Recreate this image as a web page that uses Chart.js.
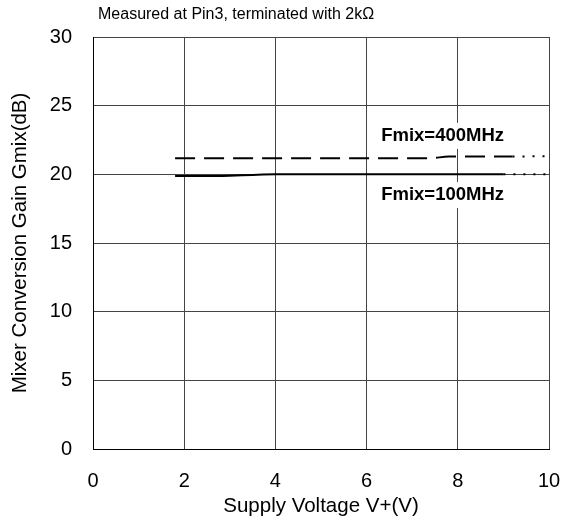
<!DOCTYPE html>
<html>
<head>
<meta charset="utf-8">
<script src="https://cdn.jsdelivr.net/npm/chart.js@4.4.0/dist/chart.umd.min.js"></script>
<style>
  body { margin: 0; background: #fff; }
  #wrap { width: 568px; height: 525px; }
</style>
</head>
<body>
<div id="wrap"><canvas id="gainChart"></canvas></div>
<script>
// values
const voltage400 = [1.8, 7.4, 7.8, 9.2, 10];
const gain400 = [21.17, 21.17, 21.3, 21.3, 21.33];
const voltage100 = [1.8, 2.5, 3, 3.5, 4, 9, 10];
const gain100 = [19.87, 19.87, 19.9, 19.96, 20, 20, 20];
const xTicks = [0, 2, 4, 6, 8, 10];
const yTicks = [0, 5, 10, 15, 20, 25, 30];
const seriesLabels = ['Fmix=400MHz', 'Fmix=100MHz'];
const chartTitle = 'Measured at Pin3, terminated with 2k\u03A9';

const FONT = "'Liberation Sans', Arial, sans-serif";
Chart.defaults.font.family = FONT;
Chart.defaults.color = '#000';

function toPoints(xs, ys) {
    return xs.map((x, i) => ({ x: x, y: ys[i] }));
}

// title + curve labels (labels sit on a white box, covering the grid)
const textPlugin = {
    id: 'textPlugin',
    afterDatasetsDraw(chart) {
        const ctx = chart.ctx;
        const xs = chart.scales.x;
        const ys = chart.scales.y;
        ctx.save();
        ctx.textBaseline = 'middle';
        ctx.textAlign = 'left';
        ctx.fillStyle = '#000';
        ctx.font = '16px ' + FONT;
        ctx.fillText(chartTitle, 98, 15);

        ctx.font = 'bold 18.5px ' + FONT;
        const spots = [
            { text: seriesLabels[0], x: 6.32, y: 22.8 },
            { text: seriesLabels[1], x: 6.32, y: 18.5 }
        ];
        spots.forEach(s => {
            const px = xs.getPixelForValue(s.x);
            const py = ys.getPixelForValue(s.y);
            const w = ctx.measureText(s.text).width;
            ctx.fillStyle = '#fff';
            ctx.fillRect(px - 3, py - 13, w + 6, 26);
            ctx.fillStyle = '#000';
            ctx.fillText(s.text, px, py);
        });
        ctx.restore();
    }
};

const ctx = document.getElementById('gainChart').getContext('2d');
new Chart(ctx, {
    type: 'line',
    data: {
        datasets: [{
            label: seriesLabels[0],
            data: toPoints(voltage400, gain400),
            borderColor: '#000',
            borderWidth: 2,
            borderDash: [20, 9],
            pointRadius: 0,
            cubicInterpolationMode: 'monotone',
            fill: false,
            segment: {
                borderDash: c => c.p0.parsed.x >= 9.1 ? [2, 8] : [20, 9]
            }
        }, {
            label: seriesLabels[1],
            data: toPoints(voltage100, gain100),
            borderColor: '#000',
            borderWidth: 2,
            pointRadius: 0,
            cubicInterpolationMode: 'monotone',
            fill: false,
            segment: {
                borderDash: c => c.p0.parsed.x >= 8.9 ? [2, 8] : []
            }
        }]
    },
    options: {
        responsive: true,
        maintainAspectRatio: false,
        animation: false,
        layout: {
            padding: { top: 37, right: 19, left: 0, bottom: 0 }
        },
        plugins: {
            legend: { display: false },
            tooltip: { enabled: false }
        },
        scales: {
            x: {
                type: 'linear',
                min: 0,
                max: 10,
                afterBuildTicks: function(scale) {
                    scale.ticks = xTicks.map(v => ({ value: v }));
                },
                afterFit: function(scale) {
                    scale.height = 76;
                    // first/last tick labels may hang outside the plot
                    scale.paddingLeft = 0;
                    scale.paddingRight = 0;
                },
                grid: {
                    color: '#444',
                    lineWidth: 1,
                    drawTicks: false
                },
                border: { color: '#000', width: 1 },
                ticks: {
                    padding: 20,
                    font: { size: 20 },
                    maxRotation: 0
                },
                title: {
                    display: true,
                    text: 'Supply Voltage V+(V)',
                    font: { size: 20.5 },
                    padding: { top: 0, bottom: 6 }
                }
            },
            y: {
                min: 0,
                max: 30,
                afterBuildTicks: function(scale) {
                    scale.ticks = yTicks.map(v => ({ value: v }));
                },
                afterFit: function(scale) {
                    scale.width = 93;
                    scale.paddingTop = 0;
                    scale.paddingBottom = 0;
                },
                grid: {
                    color: '#444',
                    lineWidth: 1,
                    drawTicks: false
                },
                border: { color: '#000', width: 1 },
                ticks: {
                    padding: 21,
                    font: { size: 20 }
                },
                title: {
                    display: true,
                    text: 'Mixer Conversion Gain Gmix(dB)',
                    font: { size: 20.5 },
                    padding: { top: 8, bottom: 0 }
                }
            }
        }
    },
    plugins: [textPlugin]
});
</script>
</body>
</html>
